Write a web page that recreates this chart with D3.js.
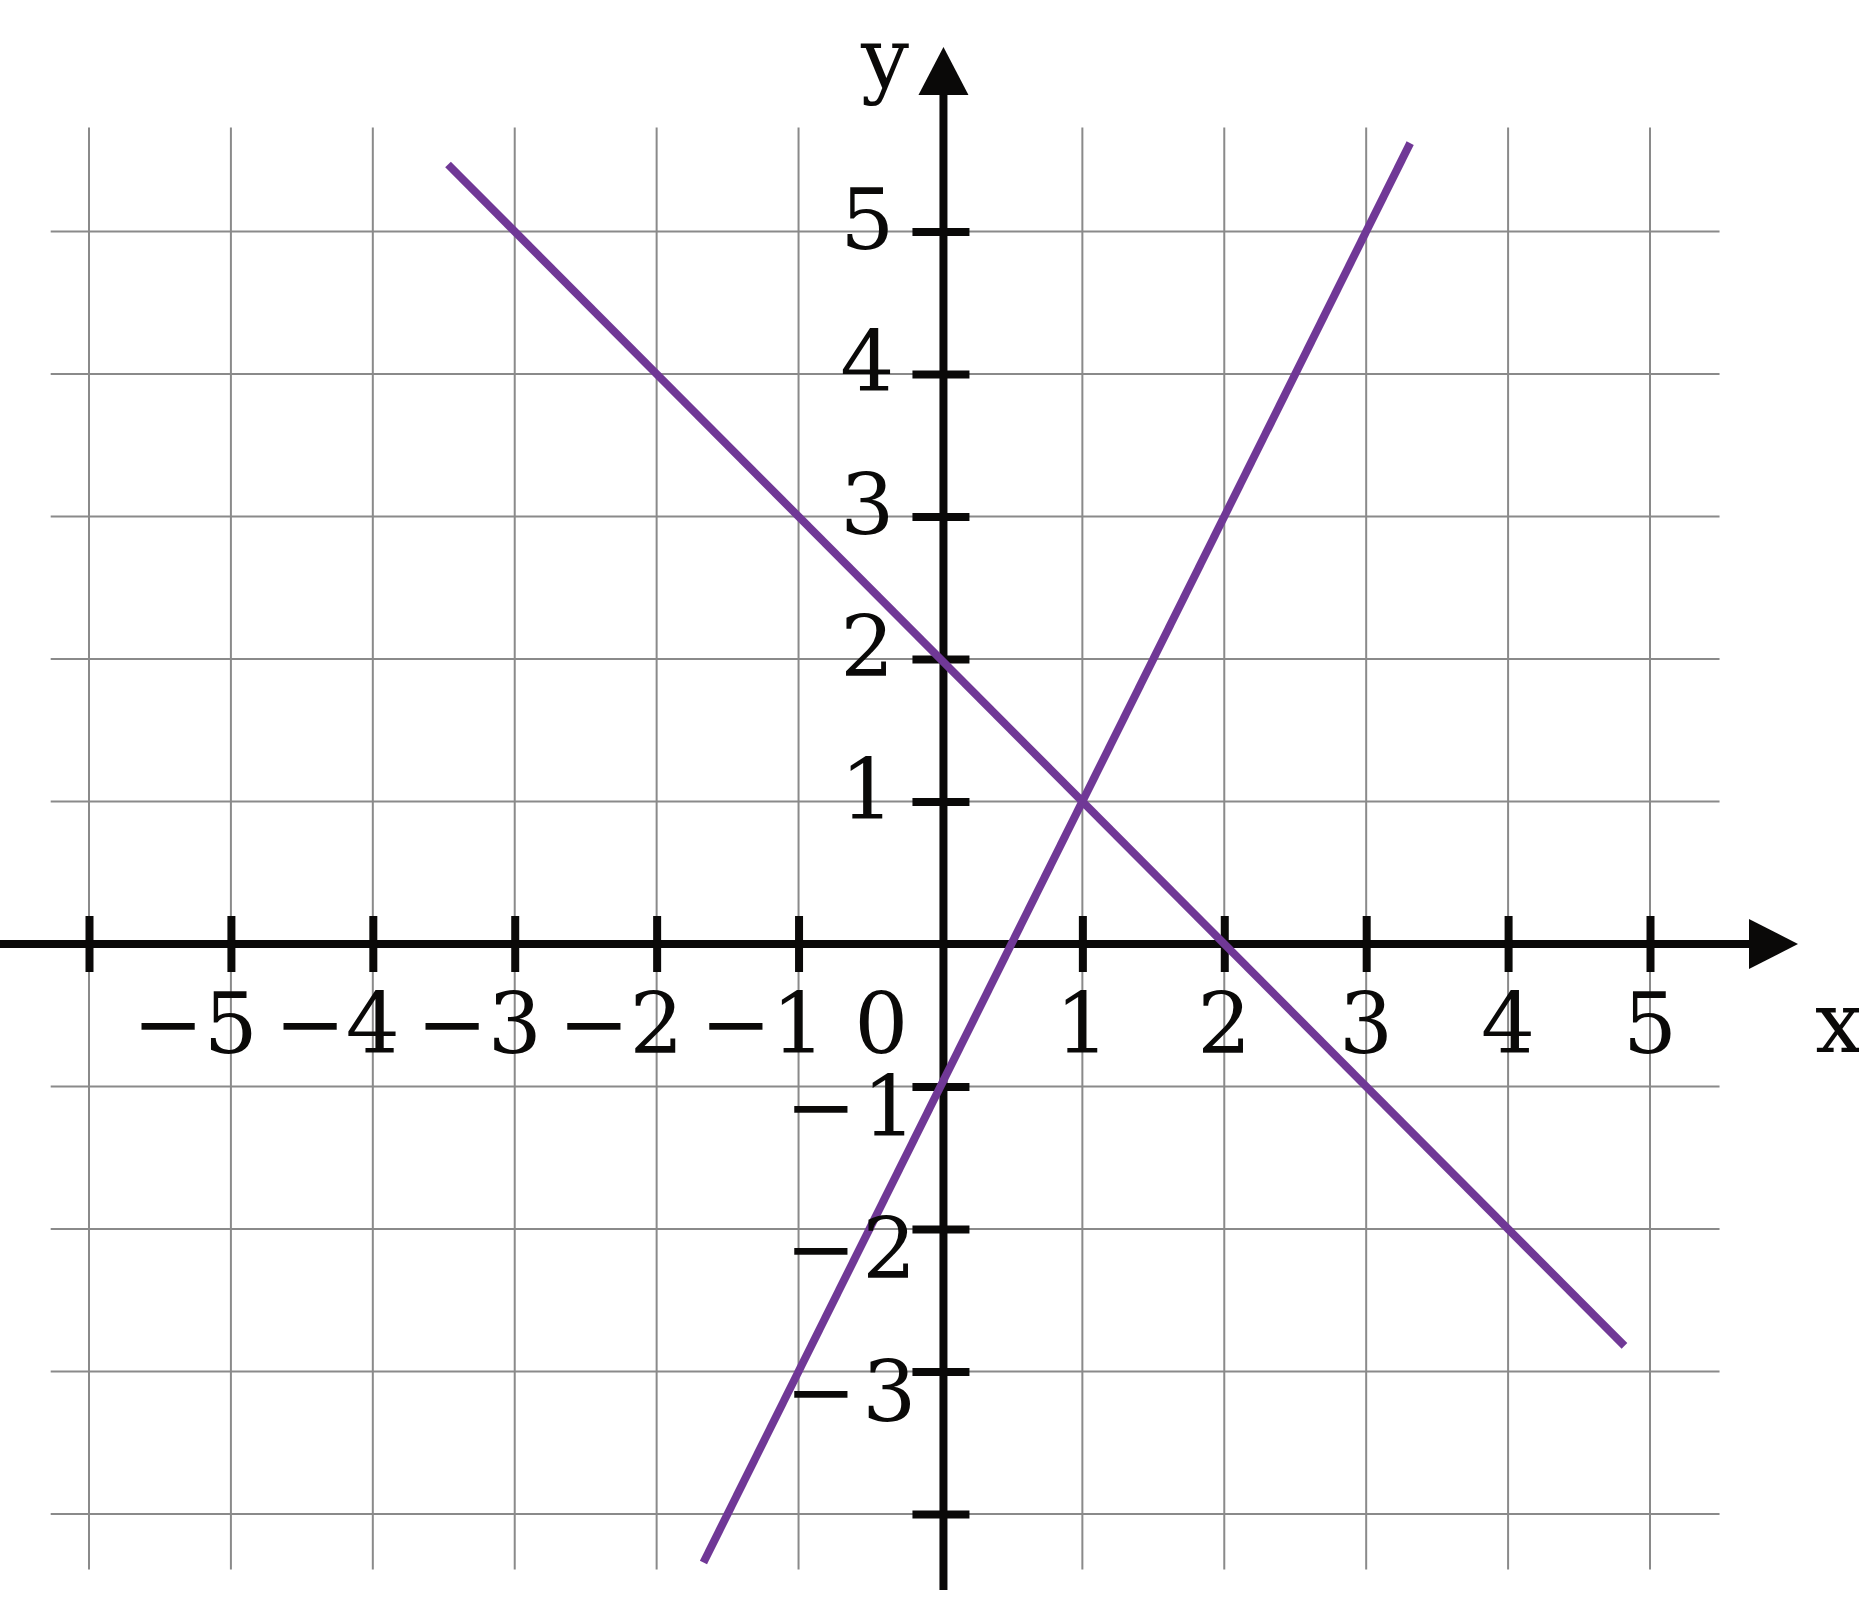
<!DOCTYPE html>
<html>
<head>
<meta charset="utf-8">
<script src="https://cdn.jsdelivr.net/npm/d3@7"></script>
<style>
body { margin: 0; background: #fff; }
text { font-family: "DejaVu Serif", serif; font-size: 85px; fill: #0a0908; }
</style>
</head>
<body>
<svg id="chart"></svg>
<script>
// data
var xTicks = [-6, -5, -4, -3, -2, -1, 1, 2, 3, 4, 5];
var xLabels = [-5, -4, -3, -2, -1, 1, 2, 3, 4, 5];
var yTicks = [-4, -3, -2, -1, 1, 2, 3, 4, 5];
var yLabels = [-3, -2, -1, 1, 2, 3, 4, 5];
var gridX = [-6, -5, -4, -3, -2, -1, 1, 2, 3, 4, 5];
var gridY = [-4, -3, -2, -1, 1, 2, 3, 4, 5];
// y = -x + 2
var lineA = [[-3.47, 5.47], [4.82, -2.82]];
// y = 2x - 1
var lineB = [[-1.67, -4.34], [3.31, 5.62]];

var width = 1859;
var height = 1613;

var x = d3.scaleLinear().domain([-6, 5]).range([89, 1650]);
var y = d3.scaleLinear().domain([-4, 5]).range([1514, 231.5]);

var purple = "#703896";
var axisX = x(0) + 3; // where the vertical axis is drawn
var axisY = y(0);

var svg = d3.select("#chart")
.attr("width", width)
.attr("height", height);

//grid
var grid = svg.append("g").attr("id", "grid")
.style("stroke", "#8a8a8a")
.style("stroke-width", "2px");

grid.selectAll(".gx")
.data(gridX)
.enter()
.append("line")
.attr("class", "gx")
.attr("x1", function(d){ return x(d) })
.attr("x2", function(d){ return x(d) })
.attr("y1", y(5.73))
.attr("y2", y(-4.39));

grid.selectAll(".gy")
.data(gridY)
.enter()
.append("line")
.attr("class", "gy")
.attr("y1", function(d){ return y(d) })
.attr("y2", function(d){ return y(d) })
.attr("x1", x(-6.27))
.attr("x2", x(5.49));

//axis lines with arrows
var axes = svg.append("g").attr("id", "axes");

axes.append("line")
.attr("x1", 0).attr("x2", 1755)
.attr("y1", axisY).attr("y2", axisY)
.style("stroke", "#0a0908").style("stroke-width", "8px");

axes.append("path")
.attr("d", "M1749," + (axisY - 25) + "L1798," + axisY + "L1749," + (axisY + 25) + "Z")
.style("fill", "#0a0908");

axes.append("line")
.attr("x1", axisX).attr("x2", axisX)
.attr("y1", 1590).attr("y2", 90)
.style("stroke", "#0a0908").style("stroke-width", "8px");

axes.append("path")
.attr("d", "M" + (axisX - 25) + ",95L" + axisX + ",47L" + (axisX + 25) + ",95Z")
.style("fill", "#0a0908");

//tick marks through d3 axes
var xAxis = d3.axisBottom(x).tickValues(xTicks).tickSize(56).tickFormat("");
var yAxis = d3.axisLeft(y).tickValues(yTicks).tickSize(57).tickFormat("");

svg.append("g")
.attr("class", "x-axis")
.attr("transform", "translate(0," + (axisY - 28) + ")")
.call(xAxis);

svg.append("g")
.attr("class", "y-axis")
.attr("transform", "translate(" + (axisX + 26) + ",0)")
.call(yAxis);

svg.selectAll(".x-axis .domain, .y-axis .domain").remove();
svg.selectAll(".x-axis .tick line, .y-axis .tick line")
.style("stroke", "#0a0908")
.style("stroke-width", "8px");

//lines
var lineGen = d3.line()
.x(function(d){ return x(d[0]) })
.y(function(d){ return y(d[1]) });

svg.selectAll(".fn")
.data([lineA, lineB])
.enter()
.append("path")
.attr("class", "fn")
.attr("d", lineGen)
.style("fill", "none")
.style("stroke", purple)
.style("stroke-width", "8px");

//labels
var minus = "\u2212";

svg.selectAll(".xl")
.data(xLabels)
.enter()
.append("text")
.attr("class", "xl")
.attr("x", function(d){ return x(d) + 27 })
.attr("y", axisY + 109)
.attr("text-anchor", "end")
.text(function(d){ return d < 0 ? minus + (-d) : String(d) });

svg.append("text")
.attr("x", x(0) - 32)
.attr("y", axisY + 109)
.attr("text-anchor", "end")
.text("0");

var yl = svg.selectAll(".yl")
.data(yLabels)
.enter()
.append("text")
.attr("class", "yl")
.attr("text-anchor", "end")
.attr("x", function(d){ return d < 0 ? x(0) - 24 : x(0) - 46 })
.attr("y", function(d){ return d < 0 ? y(d) + 49 : y(d) + 17 });

yl.filter(function(d){ return d < 0 })
.append("tspan").text(minus);
yl.append("tspan")
.attr("dx", function(d){ return d < 0 ? 6 : 0 })
.text(function(d){ return String(Math.abs(d)) });

svg.append("text")
.attr("x", 885)
.attr("y", 87)
.attr("text-anchor", "middle")
.text("y");

svg.append("text")
.attr("x", 1815)
.attr("y", 1052)
.text("x");
</script>
</body>
</html>
